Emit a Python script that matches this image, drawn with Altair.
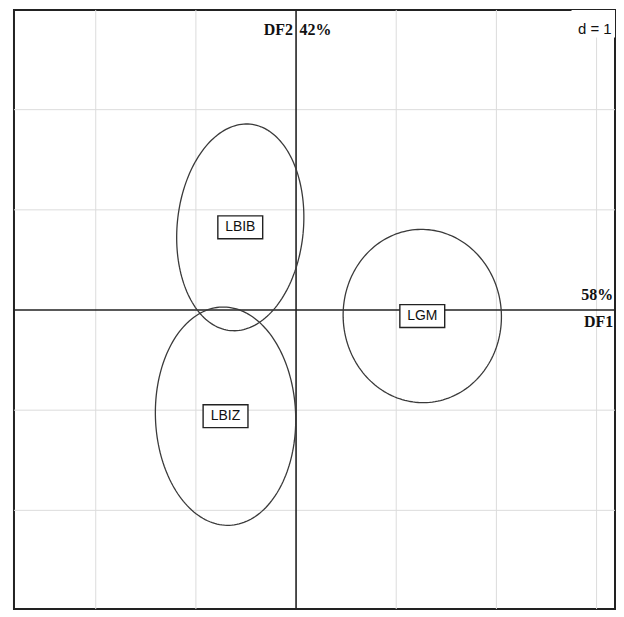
import altair as alt
import numpy as np
import pandas as pd

# class ellipses (ade4 s.class style): centre, semi-axes, rotation (deg)
classes = ["LBIB", "LBIZ", "LGM"]
cx = [-0.557, -0.704, 1.26]
cy = [0.825, -1.06, -0.06]
semi_x = [0.63, 0.70, 0.79]
semi_y = [1.035, 1.09, 0.865]
angle_deg = [-5.5, 2.0, 3.0]

grid_vals_x = [-2, -1, 1, 2, 3]
grid_vals_y = [-2, -1, 1, 2]

XDOM = [-2.816, 3.184]
YDOM = [-2.985, 2.995]
W, H = 603, 601

rows = []
for c, x0, y0, a, b, ang in zip(classes, cx, cy, semi_x, semi_y, angle_deg):
    th = np.deg2rad(ang)
    t = np.linspace(0, 2 * np.pi, 181)
    ex = a * np.cos(t)
    ey = b * np.sin(t)
    xs = x0 + ex * np.cos(th) - ey * np.sin(th)
    ys = y0 + ex * np.sin(th) + ey * np.cos(th)
    for i, (xx, yy) in enumerate(zip(xs, ys)):
        rows.append({"cls": c, "i": i, "x": xx, "y": yy})
ell = pd.DataFrame(rows)
centres = pd.DataFrame({"cls": classes, "x": cx, "y": cy})

xs = alt.Scale(domain=XDOM, nice=False, zero=False)
ys = alt.Scale(domain=YDOM, nice=False, zero=False)

gx = alt.Chart(pd.DataFrame({"v": grid_vals_x})).mark_rule(color="#dcdcdc", strokeWidth=1).encode(
    x=alt.X("v:Q", scale=xs, axis=None))
gy = alt.Chart(pd.DataFrame({"v": grid_vals_y})).mark_rule(color="#dcdcdc", strokeWidth=1).encode(
    y=alt.Y("v:Q", scale=ys, axis=None))

ax0 = alt.Chart(pd.DataFrame({"v": [0]})).mark_rule(color="#222", strokeWidth=1.6).encode(
    x=alt.X("v:Q", scale=xs, axis=None))
ay0 = alt.Chart(pd.DataFrame({"v": [0]})).mark_rule(color="#222", strokeWidth=1.6).encode(
    y=alt.Y("v:Q", scale=ys, axis=None))

ellipses = alt.Chart(ell).mark_line(color="#3a3a3a", strokeWidth=1.3).encode(
    x=alt.X("x:Q", scale=xs, axis=None),
    y=alt.Y("y:Q", scale=ys, axis=None),
    detail="cls:N",
    order="i:Q",
)

boxes = alt.Chart(centres).mark_point(
    shape="M-1,-0.51H1V0.51H-1Z", filled=True, fill="white", stroke="#222",
    strokeWidth=1.4, opacity=1, size=45 * 45,
).encode(x=alt.X("x:Q", scale=xs, axis=None), y=alt.Y("y:Q", scale=ys, axis=None))

labels = alt.Chart(centres).mark_text(font="Liberation Sans", fontSize=14, color="#111").encode(
    x=alt.X("x:Q", scale=xs, axis=None), y=alt.Y("y:Q", scale=ys, axis=None), text="cls:N")

# axis annotations
ann_txt = ["DF2", "42%", "58%", "DF1"]
ann_x = [-0.03, 0.035, 3.165, 3.165]
ann_y = [2.75, 2.75, 0.10, -0.17]
ann_align = ["right", "left", "right", "right"]
ann = pd.DataFrame({"t": ann_txt, "x": ann_x, "y": ann_y, "al": ann_align})
ann_layers = []
for al in ["left", "right"]:
    ann_layers.append(
        alt.Chart(ann[ann.al == al]).mark_text(
            font="Liberation Serif", fontWeight="bold", fontSize=16, align=al, baseline="alphabetic", color="#111"
        ).encode(x=alt.X("x:Q", scale=xs, axis=None), y=alt.Y("y:Q", scale=ys, axis=None), text="t:N")
    )

dbox = alt.Chart(pd.DataFrame({"x": [2.75], "x2": [3.184], "y": [2.995], "y2": [2.72]})).mark_rect(
    color="white").encode(x=alt.X("x:Q", scale=xs, axis=None), x2="x2:Q",
                          y=alt.Y("y:Q", scale=ys, axis=None), y2="y2:Q")
dtext = alt.Chart(pd.DataFrame({"t": ["d = 1"], "x": [3.15], "y": [2.76]})).mark_text(
    font="Liberation Sans", fontSize=15, align="right", baseline="alphabetic", color="#111"
).encode(x=alt.X("x:Q", scale=xs, axis=None), y=alt.Y("y:Q", scale=ys, axis=None), text="t:N")

chart = alt.layer(gx, gy, ax0, ay0, ellipses, boxes, labels, *ann_layers, dbox, dtext).properties(
    width=W, height=H, padding={"left": 5, "top": 0, "right": 0, "bottom": 0}
).configure_view(stroke="#222", strokeWidth=2)

chart.save("out.html", embed_options={"renderer": "svg", "actions": False})
